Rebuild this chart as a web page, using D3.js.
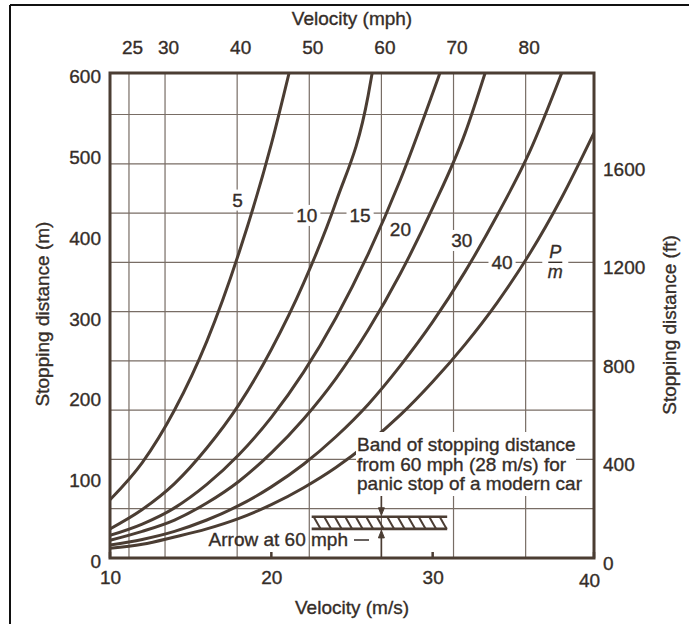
<!DOCTYPE html>
<html><head><meta charset="utf-8">
<script src="https://cdn.jsdelivr.net/npm/d3@7"></script>
<style>
html,body{margin:0;padding:0;background:#fff;}
svg{display:block;font-family:"Liberation Sans",Arial,Helvetica,sans-serif;}
</style></head>
<body>
<svg id="c" width="689" height="624"></svg>
<script>
// ---- data ----
const msTicks = [10, 20, 30, 40];                 // bottom axis, m/s
const mphTicks = [25, 30, 40, 50, 60, 70, 80];    // top axis, mph (also vertical grid)
const mTicks = [0, 100, 200, 300, 400, 500, 600]; // left axis, m
const ftTicks = [0, 400, 800, 1200, 1600];        // right axis, ft
const ftGrid = [200, 400, 600, 800, 1000, 1200, 1400, 1600, 1800]; // horizontal grid, ft
const pmLabels = ["5", "10", "15", "20", "30", "40"];
// [velocity m/s, stopping distance m]
const curve5  = [[10,72],[12,118],[14,183],[16,268],[18,378],[20,512],[21.1,600]];
const curve10 = [[10,36],[12,60],[14,92],[16,136],[18,190],[20,258],[22,340],[24,440],[26,572],[26.25,600]];
const curve15 = [[10,28],[12,42],[14,62],[16,91],[18,128],[20,174],[22,230],[24,297],[26,376],[28,468],[30,575],[30.45,600]];
const curve20 = [[10,22],[12,33],[14,47],[16,68],[18,95],[20,130],[22,172],[24,222],[26,282],[28,352],[30,433],[32,525],[33.25,600]];
const curve30 = [[10,16],[12,23],[14,33],[16,47],[18,65],[20,88],[22,116],[24,150],[26,190],[28,238],[30,292],[32,354],[34,424],[36,502],[38,600]];
const curve40 = [[10,12],[12,17],[14,26],[16,36],[18,49],[20,66],[22,87],[24,112],[26,142],[28,177],[30,218],[32,264],[34,316],[36,376],[38,446],[40,526]];
const bandVelocity = [22.5, 30.9];   // m/s extent of hatched band
const bandDistance = [36, 51];       // m extent of hatched band
const arrowMph = 60;

// ---- scales ----
const MPH = 0.44704, FT = 0.3048;
const x = d3.scaleLinear().domain([10, 40]).range([110, 594]);
const y = d3.scaleLinear().domain([0, 600]).range([558, 73]);
const xMph = d3.scaleLinear().domain([10 / MPH, 40 / MPH]).range([110, 594]);
const yFt = d3.scaleLinear().domain([0, 600 / FT]).range([558, 73]);

const INK = "#4b3d33", TXT = "#352d28", GRID = "#786d65";
const FS = 19, TSW = 0.35;
const svg = d3.select("#c");
svg.append("rect").attr("width", 689).attr("height", 624).attr("fill", "#fff");
// outer frame
svg.append("line").attr("x1", 10).attr("x2", 10).attr("y1", 5).attr("y2", 624).attr("stroke", "#111").attr("stroke-width", 2);
svg.append("line").attr("x1", 10).attr("x2", 689).attr("y1", 5).attr("y2", 5).attr("stroke", "#111").attr("stroke-width", 2);

const [X0, X1] = x.range(), [Y0, Y1] = y.range();
svg.append("clipPath").attr("id", "plot").append("rect")
  .attr("x", X0).attr("y", Y1).attr("width", X1 - X0).attr("height", Y0 - Y1);

// grid
const grid = svg.append("g").attr("stroke", GRID).attr("stroke-width", 1.2);
grid.selectAll(".v").data(mphTicks).join("line")
  .attr("x1", d => xMph(d)).attr("x2", d => xMph(d)).attr("y1", Y1).attr("y2", Y0);
grid.selectAll(".h").data(ftGrid).join("line")
  .attr("x1", X0).attr("x2", X1).attr("y1", d => yFt(d)).attr("y2", d => yFt(d));
// small inner ticks on bottom axis
svg.append("g").selectAll("line").data(msTicks).join("line")
  .attr("x1", d => x(d)).attr("x2", d => x(d)).attr("y1", Y0).attr("y2", Y0 - 6)
  .attr("stroke", INK).attr("stroke-width", 2.5);

function ink(sel) { return sel.attr("fill", TXT).attr("stroke", TXT).attr("stroke-width", TSW); }

// curve labels (with white knockout boxes)
const labelPos = [[17.9, 443], [22.2, 424], [25.5, 424], [28.0, 406], [31.8, 393], [34.3, 366]];
const lab = svg.append("g").attr("font-size", FS);
pmLabels.forEach((t, i) => {
  const g = lab.append("g");
  const tx = g.append("text").attr("x", x(labelPos[i][0])).attr("y", y(labelPos[i][1]))
    .attr("text-anchor", "middle").attr("dy", "0.35em").text(t).call(ink);
  const b = tx.node().getBBox();
  g.insert("rect", "text").attr("x", b.x - 3).attr("y", b.y).attr("width", b.width + 6).attr("height", b.height).attr("fill", "#fff");
});
// P/m fraction
const pm = svg.append("g").attr("transform", `translate(${x(37.6)},${y(365.8)})`);
pm.append("rect").attr("x", -13).attr("y", -22).attr("width", 26).attr("height", 44).attr("fill", "#fff");
pm.append("text").attr("text-anchor", "middle").attr("y", -4).attr("font-size", 18).attr("font-style", "italic").text("P").call(ink);
pm.append("line").attr("x1", -7).attr("x2", 7).attr("y1", 0).attr("y2", 0).attr("stroke", TXT).attr("stroke-width", 1.4);
pm.append("text").attr("text-anchor", "middle").attr("y", 16).attr("font-size", 18).attr("font-style", "italic").text("m").call(ink);

// curves
const line = d3.line().x(d => x(d[0])).y(d => y(d[1])).curve(d3.curveMonotoneX);
svg.append("g").attr("clip-path", "url(#plot)")
  .selectAll("path").data([curve5, curve10, curve15, curve20, curve30, curve40]).join("path")
  .attr("d", line).attr("fill", "none").attr("stroke", INK).attr("stroke-width", 3);

// band annotation text with knockout box
const bandTxt = ["Band of stopping distance", "from 60 mph (28 m/s) for", "panic stop of a modern car"];
svg.append("rect").attr("x", 356).attr("y", 432).attr("width", 220).attr("height", 64).attr("fill", "#fff");
svg.append("g").attr("font-size", FS).selectAll("text").data(bandTxt).join("text")
  .attr("x", 357).attr("y", (d, i) => 451 + i * 19.5).text(d => d).call(ink);

// hatched band
const bx0 = x(bandVelocity[0]), bx1 = x(bandVelocity[1]), byT = y(bandDistance[1]), byB = y(bandDistance[0]);
const band = svg.append("g").attr("stroke", INK);
band.append("line").attr("x1", bx0).attr("x2", bx1).attr("y1", byT).attr("y2", byT).attr("stroke-width", 2.6);
band.append("line").attr("x1", bx0).attr("x2", bx1).attr("y1", byB).attr("y2", byB).attr("stroke-width", 2.6);
band.selectAll(".hatch").data(d3.range(bx0 + 2, bx1 - 6, 10.5)).join("line")
  .attr("x1", d => d).attr("x2", d => d + 7).attr("y1", byT).attr("y2", byB).attr("stroke-width", 2);

// arrows at 60 mph
const ax = xMph(arrowMph);
const arr = svg.append("g").attr("stroke", INK).attr("fill", INK);
arr.append("line").attr("x1", ax).attr("x2", ax).attr("y1", 496).attr("y2", byT - 6).attr("stroke-width", 1.6);
arr.append("path").attr("d", `M${ax - 3},${byT - 9}L${ax + 3},${byT - 9}L${ax},${byT - 1.5}Z`).attr("stroke-width", 1);
arr.append("line").attr("x1", ax).attr("x2", ax).attr("y1", Y0).attr("y2", byB + 6).attr("stroke-width", 1.6);
arr.append("path").attr("d", `M${ax - 3},${byB + 9}L${ax + 3},${byB + 9}L${ax},${byB + 1.5}Z`).attr("stroke-width", 1);
svg.append("text").attr("x", 348).attr("y", 546).attr("text-anchor", "end").attr("font-size", FS).text("Arrow at 60 mph").call(ink);
svg.append("line").attr("x1", 354).attr("x2", 369).attr("y1", 540).attr("y2", 540).attr("stroke", TXT).attr("stroke-width", 1.5);

// plot border
svg.append("rect").attr("x", X0).attr("y", Y1).attr("width", X1 - X0).attr("height", Y0 - Y1)
  .attr("fill", "none").attr("stroke", INK).attr("stroke-width", 3);

// axes (labels only)
function styleAxis(g) {
  g.select(".domain").remove();
  g.selectAll("line").remove();
  g.selectAll("text").attr("font-size", FS).attr("font-family", "Liberation Sans, Arial, sans-serif").call(ink);
}
svg.append("g").attr("transform", `translate(${X0},0)`)
  .call(d3.axisLeft(y).tickValues(mTicks).tickSize(0).tickPadding(9)).call(styleAxis)
  .selectAll("text").attr("dy", "0.5em");
svg.append("g").attr("transform", `translate(${X1},0)`)
  .call(d3.axisRight(yFt).tickValues(ftTicks).tickFormat(d3.format("d")).tickSize(0).tickPadding(9)).call(styleAxis)
  .selectAll("text").attr("dy", "0.6em");
svg.append("g").attr("transform", `translate(0,${Y0})`)
  .call(d3.axisBottom(x).tickValues(msTicks).tickSize(0).tickPadding(13)).call(styleAxis)
  .selectAll("text").filter(d => d === 40).attr("dx", -5).attr("dy", "0.85em");
svg.append("g").attr("transform", `translate(0,${Y1})`)
  .call(d3.axisTop(xMph).tickValues(mphTicks).tickSize(0).tickPadding(19)).call(styleAxis)
  .selectAll("text").attr("dx", 3);

// titles
svg.append("text").attr("x", 352).attr("y", 24.5).attr("text-anchor", "middle").attr("font-size", FS).text("Velocity (mph)").call(ink);
svg.append("text").attr("x", 352).attr("y", 613.5).attr("text-anchor", "middle").attr("font-size", FS).text("Velocity (m/s)").call(ink);
svg.append("text").attr("transform", "translate(42,314) rotate(-90)").attr("text-anchor", "middle").attr("dy", "0.35em")
  .attr("font-size", FS).text("Stopping distance (m)").call(ink);
svg.append("text").attr("transform", "translate(669,325) rotate(-90)").attr("text-anchor", "middle").attr("dy", "0.35em")
  .attr("font-size", FS).text("Stopping distance (ft)").call(ink);
</script>
</body></html>
